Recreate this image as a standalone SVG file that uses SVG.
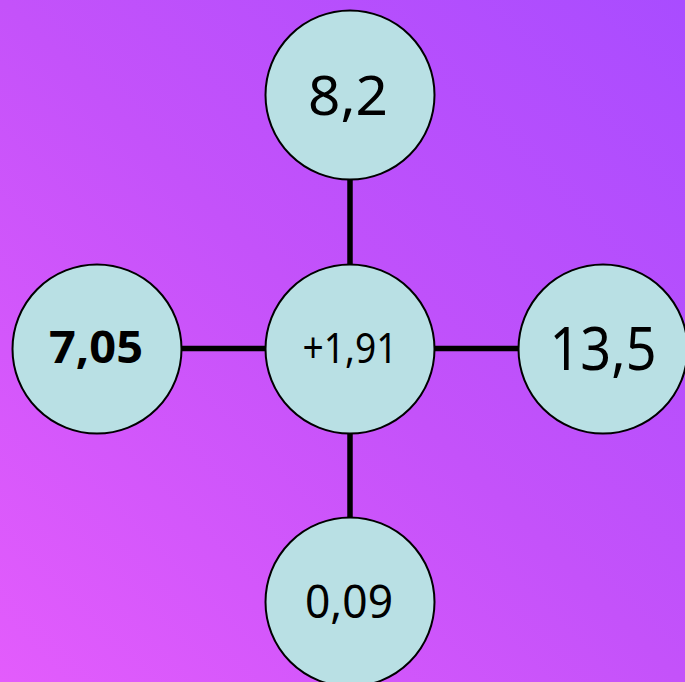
<svg xmlns="http://www.w3.org/2000/svg" width="685" height="682" viewBox="0 0 685 682">
  <defs>
    <linearGradient id="bg" x1="0" y1="682" x2="685" y2="0" gradientUnits="userSpaceOnUse">
      <stop offset="0" stop-color="#e35cfc"/>
      <stop offset="0.5" stop-color="#c452fa"/>
      <stop offset="1" stop-color="#a94cff"/>
    </linearGradient>
  </defs>
  <style>
    .node circle { fill: #b9e0e4; stroke: #000; stroke-width: 2; }
    .node text { font-family: "Comic Sans MS", "Noto Sans", "DejaVu Sans", sans-serif; fill: #000; text-anchor: middle; }
    .conn line { stroke: #000; stroke-width: 5.5; }
  </style>
  <rect width="685" height="682" fill="url(#bg)"/>
  <g id="connectors" class="conn">
    <line x1="350" y1="180" x2="350" y2="264"/>
    <line x1="182" y1="348.5" x2="265" y2="348.5"/>
    <line x1="435" y1="348.5" x2="518" y2="348.5"/>
    <line x1="350" y1="434" x2="350" y2="517"/>
  </g>
  <g id="node-top" class="node">
    <circle cx="350" cy="95" r="84.5"/>
    <text x="348" y="115" font-size="55" textLength="80" lengthAdjust="spacingAndGlyphs">8,2</text>
  </g>
  <g id="node-center" class="node">
    <circle cx="350" cy="349" r="84.5"/>
    <text x="350" y="363" font-size="42" textLength="95" lengthAdjust="spacingAndGlyphs">+1,91</text>
  </g>
  <g id="node-left" class="node">
    <circle cx="97" cy="349" r="84.5"/>
    <text x="96" y="363" font-size="44" font-weight="bold" textLength="94" lengthAdjust="spacingAndGlyphs">7,05</text>
  </g>
  <g id="node-right" class="node">
    <circle cx="603" cy="349" r="84.5"/>
    <text x="603" y="370" font-size="60" textLength="107" lengthAdjust="spacingAndGlyphs">13,5</text>
  </g>
  <g id="node-bottom" class="node">
    <circle cx="350" cy="602" r="84.5"/>
    <text x="349" y="618" font-size="45" textLength="88" lengthAdjust="spacingAndGlyphs">0,09</text>
  </g>
</svg>
